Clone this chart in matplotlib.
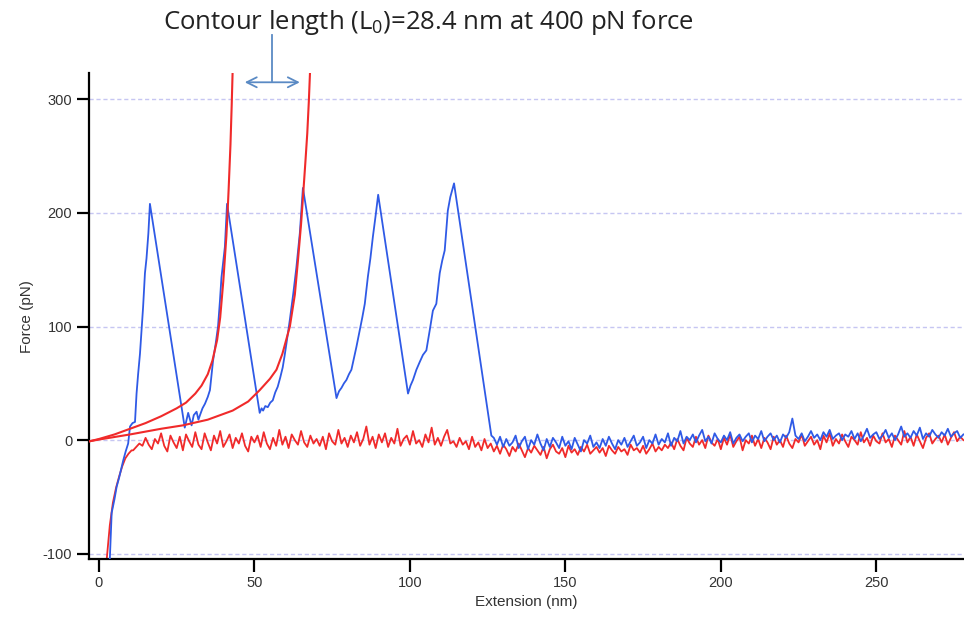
import numpy as np
import matplotlib
matplotlib.use("Agg")
import matplotlib.pyplot as plt

plt.rcParams['font.family'] = ['Liberation Sans', 'DejaVu Sans']
plt.rcParams['axes.unicode_minus'] = False
plt.rcParams['mathtext.fontset'] = 'custom'
plt.rcParams['mathtext.rm'] = 'Open Sans'
plt.rcParams['mathtext.it'] = 'Open Sans'

# blue trace: approach + four unfolding peaks (nm, pN)
blue_x = [3.5, 4.1, 5.0, 5.7, 6.5, 7.2, 7.8, 8.6, 9.4, 10.0, 10.8, 11.6, 12.1, 12.6, 13.2, 13.7,
          14.2, 14.8, 15.3, 15.9, 16.4,
          27.6, 28.7, 29.8, 30.5, 31.4, 32.0, 32.5, 33.3, 34.1, 35.0, 35.7, 36.2, 36.7, 37.5,
          38.3, 38.9, 39.4, 40.0, 40.5, 41.2,
          51.7, 52.3, 52.8, 53.5, 54.3, 55.1, 55.9, 56.7, 57.5, 58.3, 59.1, 59.7, 60.3, 61.4,
          62.5, 63.5, 64.6, 65.6,
          76.4, 77.2, 78.0, 78.8, 79.6, 80.4, 81.2, 82.0, 82.8, 83.9, 84.7, 85.5, 86.5, 87.3,
          88.1, 89.0, 89.8,
          99.4, 100.2, 101.0, 102.1, 103.2, 104.2, 105.3, 106.4, 107.4, 108.5, 109.6, 110.4,
          111.2, 112.2, 113.0, 114.2,
          126.2]
blue_f = [-105, -64, -52, -41, -33, -25, -18, -10, -3, 12, 15, 16, 41, 58, 76, 97,
          117, 147, 160, 182, 208,
          11, 24, 13, 22, 25, 18, 22, 28, 32, 38, 44, 57, 70, 84,
          100, 122, 143, 158, 170, 208,
          24, 28, 26, 30, 29, 33, 35, 42, 47, 55, 64, 74, 85, 106,
          129, 152, 182, 222,
          37, 43, 46, 50, 53, 58, 62, 72, 82, 97, 108, 120, 144, 160,
          179, 198, 216,
          41, 48, 53, 62, 69, 75, 79, 97, 114, 120, 147, 158,
          167, 202, 214, 226,
          4]

# blue baseline after detachment, 1 nm steps from 127 nm
blue_base_start = 127
blue_base_f = [2, -4, 3, -6,
               1, -5, -2, 4, -7, -1, 3, -8, 0, -4,
               5, -3, -9, 1, -6, 2, -2, -7, 3, -5,
               -1, -8, 2, -4, -10, 0, -3, 4, -6, -2,
               -7, 1, -5, 3, -3, -8, 0, -4, 2, -6,
               -1, 4, -5, -2, 3, -7, 0, -3, 5, -4,
               1, -2, 6, -5, 2, -1, 8, -3, 3, 0,
               5, -2, 4, 9, -1, 3, -3, 6, 1, -2,
               4, 0, 7, -3, 2, 5, -1, 3, 6, -2,
               4, 1, 8, -1, 3, 6, 0, 4, -2, 5,
               2, 7, 19, 4, 1, 6, -1, 3, 8, 2,
               5, 0, 7, 3, 9, 1, 4, 6, 0, 5,
               3, 8, 1, 6, -1, 4, 10, 2, 5, 7,
               1, 4, 9, 2, 6, 0, 5, 12, 3, 6,
               2, 8, 4, 11, 1, 6, 3, 9, 5, 2,
               7, 4, 10, 3, 6, 8, 2, 5]

# red trace (no attachment)
red_app_x = [2.5, 3.5, 4.5, 5.5, 6.5, 7.5, 8.5, 9.5, 10.5]
red_app_f = [-105, -75, -55, -42, -32, -23, -16, -12, -9]
red_base_start = 11
red_base_f = [-9, -6, -3, -5, 2, -4, -8, 1, -3, 6,
              -5, -10, 4, -2, -7, 3, -9, 5, -1, -6,
              7, -4, -8, 6, -2, -9, 4, -3, 8, -6,
              -1, 5, -7, 2, -3, 6, -5, -10, 3, -2,
              4, -6, 7, -3, -8, 2, -5, 9, -4, 3,
              -7, 5, 0, -4, 8, -2, -6, 4, -3, 1,
              -5, 3, -8, 6, -1, -4, 9, -3, 2, -6,
              4, -2, 7, -5, 1, 12, -4, 3, -7, 5,
              -2, 6, -6, 2, -3, 10, -5, 1, 4, -4,
              8, -3, 0, -6, 5, -2, 11, -4, 2, -5,
              3, 9, -3, -1, -6, 2, -4, -1, -8, 3,
              -6, -2, -9, 1, -7, -3, -10, -5, -12, -4,
              -8, -14, -6, -10, -3, -9, -15, -7, -11, -5,
              -9, -13, -6, -16, -8, -4, -10, -12, -7, -15,
              -5, -11, -8, -13, -6, -10, -4, -12, -9, -6,
              -11, -7, -14, -5, -9, -12, -6, -10, -8, -13,
              -4, -9, -7, -11, -5, -12, -8, -3, -10, -6,
              -9, -4, -7, -2, -8, 1, -5, -9, 2, -3,
              -6, 3, -4, 0, -7, 4, -2, -5, 1, -8,
              2, -4, 5, -6, -1, 3, -9, 0, -3, 4,
              -5, 1, -7, 2, -2, -8, 3, -4, 0, -6,
              4, -3, -7, 1, -2, 5, -5, -1, 3, -4,
              0, -8, 4, -2, 6, -5, 1, -3, 5, -1,
              -6, 3, 0, -4, 7, -2, 2, -5, 4, -1,
              -3, 6, -2, 1, -6, 4, 0, -4, 8, -2,
              3, -5, 5, -1, -7, 2, 6, -3, 1, 4,
              -2, 5, -4, 2, 7, -1, 3, 0]

# WLC fit curves
fit1_x = [-3, 0, 5, 10, 15, 20, 25, 28, 31, 33, 35, 36.5, 38, 39, 40, 41, 41.5, 41.7, 42.3, 42.7, 43.0]
fit1_f = [-1, 1, 5, 10, 15, 21, 28, 33, 41, 48, 58, 70, 88, 108, 140, 180, 208, 220, 260, 295, 325]
fit2_x = [-3, 0, 10, 20, 27, 35, 43, 48, 51.7, 55, 57.1, 59, 61.4, 63, 64, 65, 65.7, 66.4, 67.0, 67.5, 67.9]
fit2_f = [-1, 0.5, 5, 10, 13, 18, 26, 34, 44, 54, 62, 76, 100, 128, 158, 190, 217, 245, 270, 298, 325]

blue = '#2f5ae6'
red = '#f02a2a'
arrow_c = '#5a8ac4'

fig = plt.figure(figsize=(9.64, 6.31), dpi=100)
ax = fig.add_axes([0.0923, 0.114, 0.9077, 0.770])

for yv in [300, 200, 100, 0, -100]:
    ax.axhline(yv, color='#c6c6f2', lw=1.0, ls=(0, (3, 2)), zorder=0)

red_x = red_app_x + list(np.arange(red_base_start, red_base_start + len(red_base_f)))
red_f = red_app_f + red_base_f
ax.plot(red_x, red_f, color=red, lw=1.3, zorder=2)

bx = blue_x + list(np.arange(blue_base_start, blue_base_start + len(blue_base_f)))
bf = blue_f + blue_base_f
ax.plot(bx, bf, color=blue, lw=1.3, zorder=3)

ax.plot(fit1_x, fit1_f, color=red, lw=1.5, zorder=4)
ax.plot(fit2_x, fit2_f, color=red, lw=1.5, zorder=4)

ax.set_xlim(-3.2, 278.2)
ax.set_ylim(-104.7, 323)
ax.set_xticks([0, 50, 100, 150, 200, 250])
ax.set_yticks([-100, 0, 100, 200, 300])
ax.spines['top'].set_visible(False)
ax.spines['right'].set_visible(False)
ax.spines['left'].set_linewidth(1.6)
ax.spines['bottom'].set_linewidth(1.6)
ax.tick_params(axis='both', length=9, width=1.6, labelsize=10.5, labelcolor='#333333', pad=3)
ax.set_xlabel("Extension (nm)", fontsize=11, color='#333333', labelpad=4)
ax.set_ylabel("Force (pN)", fontsize=11, color='#333333', labelpad=6)

# annotation
ax.text(106, 368, "Contour length ($\\mathrm{L}_{0}$)=28.4 nm at 400 pN force",
        fontsize=18.5, family='Open Sans', color='#222222', ha='center', va='center', clip_on=False)
ax.plot([55.6, 55.6], [357, 316], color=arrow_c, lw=1.3, clip_on=False)
ax.annotate("", xy=(46.0, 315), xytext=(65.5, 315),
            arrowprops=dict(arrowstyle='<->', color=arrow_c, lw=1.3, mutation_scale=18),
            annotation_clip=False)

fig.savefig("out.png", dpi=100)
